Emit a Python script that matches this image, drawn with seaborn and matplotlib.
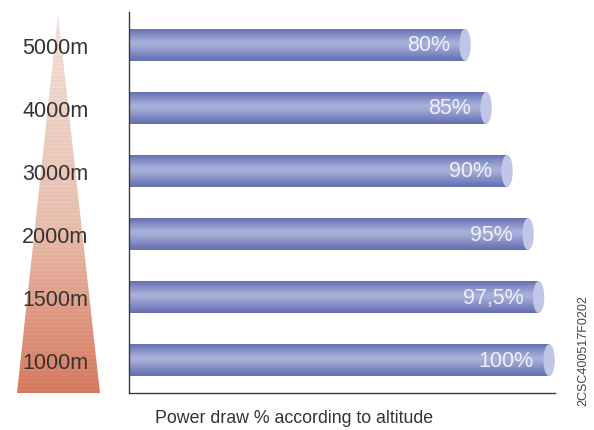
import numpy as np
import matplotlib
matplotlib.use("Agg")
import matplotlib.pyplot as plt
import seaborn as sns
from matplotlib.patches import Polygon, Ellipse
from matplotlib.colors import to_rgb

categories = ['5000m', '4000m', '3000m', '2000m', '1500m', '1000m']
values = [80, 85, 90, 95, 97.5, 100]
value_labels = ['80%', '85%', '90%', '95%', '97,5%', '100%']
xlabel = 'Power draw % according to altitude'
code_text = '2CSC400517F0202'

sns.set_theme(style='white')
plt.rcParams['font.family'] = ['Liberation Sans', 'DejaVu Sans']

W, H = 594, 431
fig = plt.figure(figsize=(W / 100, H / 100), dpi=100)

# background axes in pixel coordinates for the altitude triangle
bg = fig.add_axes([0, 0, 1, 1], zorder=0)
bg.set_xlim(0, W)
bg.set_ylim(H, 0)
bg.axis('off')
tri = Polygon([(58, 15), (17, 394), (100, 394)], closed=True,
              facecolor='none', edgecolor='none')
bg.add_patch(tri)
n = 380
t = np.linspace(0, 1, n)
top_c = np.array(to_rgb('#f6e4dc'))
mid_c = np.array(to_rgb('#ecc2b2'))
bot_c = np.array(to_rgb('#d97c62'))
cols = np.where(t[:, None] < 0.55,
                top_c + (mid_c - top_c) * (t[:, None] / 0.55),
                mid_c + (bot_c - mid_c) * ((t[:, None] - 0.55) / 0.45))
stripe = np.where((np.arange(n) // 2) % 2 == 0, 1.0, 0.97)[:, None]
cols = np.clip(cols * stripe, 0, 1)
img = np.repeat(cols[:, None, :], 2, axis=1)
im = bg.imshow(img, extent=(17, 100, 394, 15), aspect='auto', origin='upper')
im.set_clip_path(tri)

# main bar axes
ax = fig.add_axes([129 / W, 1 - 394 / H, 426 / W, 381 / H], zorder=1)
ax.patch.set_alpha(0)
bar_h = 0.506
sns.barplot(x=values, y=categories, orient='h', width=bar_h,
            color='#7a84bf', ax=ax, saturation=1)

# cylinder shading
prof_pos = [0.0, 0.12, 0.42, 0.55, 0.85, 1.0]
prof_col = ['#6670b2', '#7a84c0', '#aab1da', '#a2a9d4', '#7680bd', '#6870b0']
pc = np.array([to_rgb(c) for c in prof_col])
tt = np.linspace(0, 1, 64)
grad = np.stack([np.interp(tt, prof_pos, pc[:, k]) for k in range(3)], axis=1)
grad_img = np.repeat(grad[:, None, :], 2, axis=1)

for patch, v, lab in zip(ax.patches, values, value_labels):
    x0 = patch.get_x()
    y0 = patch.get_y()
    h = patch.get_height()
    w = patch.get_width()
    gi = ax.imshow(grad_img, extent=(x0, x0 + w, y0, y0 + h),
                   aspect='auto', origin='lower', zorder=2)
    gi.set_clip_path(patch)
    cap = Ellipse((x0 + w, y0 + h / 2), width=2.7, height=h,
                  facecolor='#c2c6e6', edgecolor='none', zorder=3)
    ax.add_patch(cap)
    ax.annotate(lab, xy=(x0 + w, y0 + h / 2), xytext=(-11, 0),
                textcoords='offset points', ha='right', va='center',
                fontsize=15.5, color='#eef0fa', zorder=4)

ax.set_xlim(0, 101.4)
ax.set_ylim(5.52, -0.52)
ax.set_xticks([])
ax.set_xlabel('')
ax.set_ylabel('')
for s in ['top', 'right']:
    ax.spines[s].set_visible(False)
for s in ['left', 'bottom']:
    ax.spines[s].set_color('#3a3a3a')
    ax.spines[s].set_linewidth(1.0)
ax.tick_params(axis='y', length=0, pad=53, labelsize=15.5,
               labelcolor='#333333')
for tl in ax.get_yticklabels():
    tl.set_horizontalalignment('center')

fig.text(155 / W, 1 - 419 / H, xlabel, ha='left', va='center',
         fontsize=12.8, color='#333333')
fig.text(583 / W, 1 - 351 / H, code_text, rotation=90, ha='center',
         va='center', fontsize=9, color='#444444')

fig.savefig('out.png', dpi=100)
